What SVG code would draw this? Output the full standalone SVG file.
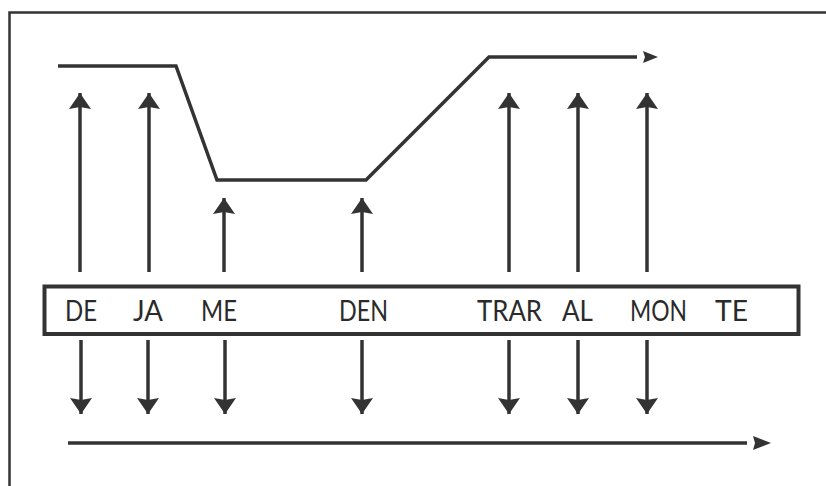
<svg xmlns="http://www.w3.org/2000/svg" width="826" height="486" viewBox="0 0 826 486">
<defs>
<style>
.ln{fill:none;stroke:#333;stroke-width:3.5;stroke-linejoin:miter}
.ar{fill:none;stroke:#333;stroke-width:3.5}
.lbl{font-family:Lato,"Liberation Sans",sans-serif;font-size:28px;fill:#2a2a2a}
</style>
<marker id="hd" viewBox="0 0 16 22" refX="16" refY="11" markerWidth="16" markerHeight="22" markerUnits="userSpaceOnUse" orient="auto">
<path d="M0,0 L16,11 L0,22 L2,11 Z" fill="#333"/>
</marker>
</defs>
<rect width="826" height="486" fill="#fff"/>
<rect x="9.5" y="12.5" width="830" height="490" fill="none" stroke="#333" stroke-width="2.5"/>
<g id="connectors">
<polyline class="ln" points="58,66 176,66 217,180 366,180 489,57 637,57"/>
<path d="M643,51 L658,57 L643,63 L645,57 Z" fill="#333"/>
<line class="ln" x1="68" y1="443" x2="747" y2="443"/>
<path d="M753,436 L771,443 L753,450 L755,443 Z" fill="#333"/>
<g class="ar">
<line x1="80" y1="272" x2="80" y2="93" marker-end="url(#hd)"/>
<line x1="149" y1="272" x2="149" y2="93" marker-end="url(#hd)"/>
<line x1="224" y1="272" x2="224" y2="198" marker-end="url(#hd)"/>
<line x1="362" y1="272" x2="362" y2="198" marker-end="url(#hd)"/>
<line x1="509" y1="272" x2="509" y2="93" marker-end="url(#hd)"/>
<line x1="578" y1="272" x2="578" y2="93" marker-end="url(#hd)"/>
<line x1="647" y1="272" x2="647" y2="93" marker-end="url(#hd)"/>
<line x1="81" y1="340" x2="81" y2="414" marker-end="url(#hd)"/>
<line x1="148" y1="340" x2="148" y2="414" marker-end="url(#hd)"/>
<line x1="225" y1="340" x2="225" y2="414" marker-end="url(#hd)"/>
<line x1="362" y1="340" x2="362" y2="414" marker-end="url(#hd)"/>
<line x1="509" y1="340" x2="509" y2="414" marker-end="url(#hd)"/>
<line x1="578" y1="340" x2="578" y2="414" marker-end="url(#hd)"/>
<line x1="647" y1="340" x2="647" y2="414" marker-end="url(#hd)"/>
</g>
</g>
<g id="syllables">
<rect x="44.5" y="286.5" width="754" height="47.5" fill="#fff" stroke="#333" stroke-width="4"/>
<text class="lbl" x="65" y="321" textLength="32" lengthAdjust="spacingAndGlyphs">DE</text>
<text class="lbl" x="133" y="321" textLength="30" lengthAdjust="spacingAndGlyphs">JA</text>
<text class="lbl" x="201" y="321" textLength="36" lengthAdjust="spacingAndGlyphs">ME</text>
<text class="lbl" x="339" y="321" textLength="49" lengthAdjust="spacingAndGlyphs">DEN</text>
<text class="lbl" x="477" y="321" textLength="65" lengthAdjust="spacingAndGlyphs">TRAR</text>
<text class="lbl" x="562" y="321" textLength="31" lengthAdjust="spacingAndGlyphs">AL</text>
<text class="lbl" x="630" y="321" textLength="57" lengthAdjust="spacingAndGlyphs">MON</text>
<text class="lbl" x="715" y="321" textLength="33" lengthAdjust="spacingAndGlyphs">TE</text>
</g>
</svg>
